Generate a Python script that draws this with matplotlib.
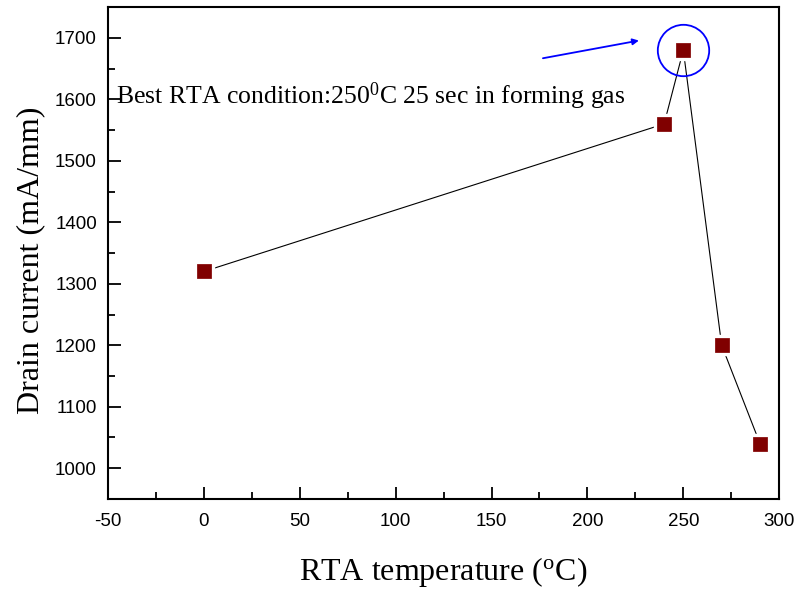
import matplotlib
matplotlib.use("Agg")
import matplotlib.pyplot as plt
from matplotlib.ticker import MultipleLocator

temps = [0, 240, 250, 270, 290]
current = [1320, 1560, 1680, 1200, 1040]
best_temp = [250]
best_current = [1680]

plt.rcParams['mathtext.fontset'] = 'custom'
plt.rcParams['mathtext.rm'] = 'Liberation Serif'
plt.rcParams['mathtext.it'] = 'Liberation Serif:italic'
plt.rcParams['axes.unicode_minus'] = False

fig = plt.figure(figsize=(8, 5.91), dpi=100)
ax = fig.add_axes([0.135, 0.1557, 0.839, 0.8323])

ax.plot(temps, current, color='black', lw=0.8, zorder=2)
ax.plot(temps, current, ls='none', marker='s', ms=14.5, mfc='white', mec='white', zorder=3)
ax.plot(temps, current, ls='none', marker='s', ms=10.5, mfc='#800000', mec='#8a1010', mew=0.6, zorder=4)
ax.plot(best_temp, best_current, ls='none', marker='o', ms=37, mfc='none', mec='#0000ff', mew=1.3, zorder=5)

ax.annotate('', xy=(0.791, 0.932), xycoords='axes fraction',
            xytext=(0.648, 0.896), textcoords='axes fraction',
            arrowprops=dict(arrowstyle='-|>', color='#0000ff', lw=1.3,
                            mutation_scale=9, shrinkA=0, shrinkB=0))
ax.text(0.012, 0.804, r'Best RTA condition:250$^{\mathrm{0}}$C 25 sec in forming gas',
        transform=ax.transAxes, fontsize=18.5, family='Liberation Serif',
        ha='left', va='baseline')

ax.set_xlim(-50, 300)
ax.set_ylim(950, 1750)
ax.xaxis.set_major_locator(MultipleLocator(50))
ax.xaxis.set_minor_locator(MultipleLocator(25))
ax.yaxis.set_minor_locator(MultipleLocator(50))
ax.set_yticks([1000, 1100, 1200, 1300, 1400, 1500, 1600, 1700])
ax.tick_params(which='both', direction='in', width=1.3, top=False, right=False)
ax.tick_params(which='major', length=9, labelsize=13.5)
ax.tick_params(axis='x', which='major', pad=10)
ax.tick_params(axis='y', which='major', pad=8)
ax.tick_params(which='minor', length=5)
for lab in ax.get_xticklabels() + ax.get_yticklabels():
    lab.set_family('Liberation Sans')
for s in ax.spines.values():
    s.set_linewidth(1.5)

ax.set_xlabel(r'RTA temperature ($^{\mathrm{o}}$C)', fontsize=23, family='Liberation Serif', labelpad=18)
ax.set_ylabel('Drain current (mA/mm)', fontsize=23, family='Liberation Serif')
ax.yaxis.set_label_coords(-0.135 + 27.5 / 671, 0.486)

fig.savefig('out.png', dpi=100)
